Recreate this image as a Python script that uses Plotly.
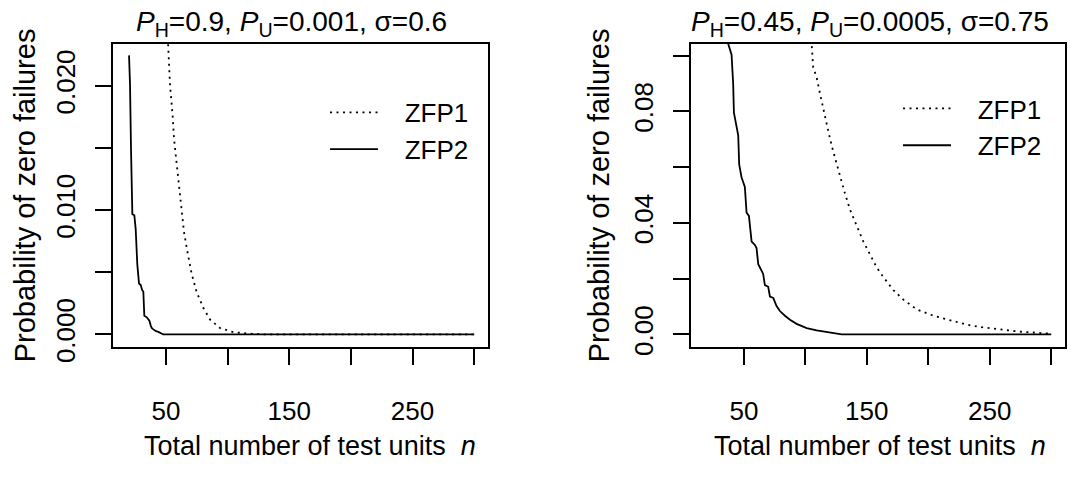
import plotly.graph_objects as go

# ---------------- data ----------------
# Left panel: P_H=0.9, P_U=0.001, sigma=0.6
n_zfp1_left = [50, 51.9, 53.2, 55.4, 56.5, 58.7, 60.8, 62.7, 64.6, 67.3, 70.8, 74.9,
               80.2, 85.7, 93.8, 104.5, 115.4, 120.8, 130, 300]
p_zfp1_left = [0.0270, 0.02315, 0.02016, 0.01757, 0.01576, 0.01369, 0.01187, 0.0098,
               0.00824, 0.00669, 0.00488, 0.00340, 0.00215, 0.00120, 0.00052, 0.00018,
               0.00008, 0.00005, 0.00001, 0.0]
n_zfp2_left = [20.0, 20.8, 21.6, 22.7, 24.3, 25.4, 26.7, 28.1, 29.5, 30.6, 31.6, 32.4,
               34.4, 36.5, 37.6, 38.4, 39.7, 41.9, 43.8, 46.5, 47.8, 300]
p_zfp2_left = [0.02245, 0.02016, 0.01498, 0.00967, 0.00959, 0.0085, 0.00565, 0.0041,
               0.00397, 0.00358, 0.00345, 0.0015, 0.00138, 0.00111, 0.00072, 0.00052,
               0.00041, 0.00026, 0.00021, 0.00008, 0.0, 0.0]

# Right panel: P_H=0.45, P_U=0.0005, sigma=0.75
n_zfp1_right = [104, 105.1, 106.4, 109.2, 111.9, 114.6, 117.3, 120.0, 122.7, 125.5, 128.2,
                132.2, 136.3, 141.8, 147.2, 152.6, 158.1, 163.4, 171.6, 179.7, 190.6,
                204.2, 217.8, 231.4, 244.9, 258.5, 272.1, 285.6, 299.2]
p_zfp1_right = [0.108, 0.1043, 0.0957, 0.0922, 0.0864, 0.0807, 0.0749, 0.0703, 0.0656,
                0.0610, 0.0564, 0.0506, 0.0448, 0.0391, 0.0333, 0.0287, 0.0240, 0.0206,
                0.0159, 0.0125, 0.0090, 0.0067, 0.0050, 0.0035, 0.0025, 0.0017, 0.0011,
                0.0007, 0.0003]
n_zfp2_right = [36, 37.2, 40.0, 41.3, 41.9, 43.5, 45.4, 46.2, 48.1, 50.8, 52.2, 54.1,
                56.3, 59.0, 60.3, 61.7, 65.7, 67.1, 69.8, 71.2, 73.9, 76.6, 79.3, 83.4,
                87.5, 92.9, 101.1, 109.2, 117.3, 128.2, 129.6, 300]
p_zfp2_right = [0.110, 0.1043, 0.1003, 0.0899, 0.0795, 0.0755, 0.0714, 0.0610, 0.0564,
                0.0529, 0.0437, 0.0425, 0.0333, 0.0321, 0.0310, 0.0252, 0.0217, 0.0177,
                0.0171, 0.0136, 0.0131, 0.0102, 0.0084, 0.0067, 0.0053, 0.0038, 0.0023,
                0.0015, 0.0009, 0.0003, 0.0, 0.0]

# labelled ticks (unlabelled ticks every x_tick_step / y_tick_step)
x_tickvals = [50, 150, 250]
x_ticktext = ["50", "150", "250"]
x_tick_step = 50
y_tickvals_left = [0.000, 0.010, 0.020]
y_ticktext_left = ["0.000", "0.010", "0.020"]
y_tick_step_left = 0.005
y_tickvals_right = [0.00, 0.04, 0.08]
y_ticktext_right = ["0.00", "0.04", "0.08"]
y_tick_step_right = 0.02

series_names = ["ZFP1", "ZFP2"]
titles = ["<i>P</i><sub>H</sub>=0.9, <i>P</i><sub>U</sub>=0.001, σ=0.6",
          "<i>P</i><sub>H</sub>=0.45, <i>P</i><sub>U</sub>=0.0005, σ=0.75"]
xlab = "Total number of test units  <i>n</i>"
ylab = "Probability of zero failures"

# ---------------- figure ----------------
W, H = 1071, 480
FONT = "Liberation Sans, Arial, Helvetica, sans-serif"
LW = 1.8
DOT = "2px,4.5px"
GAP = "\u00a0\u00a0\u00a0"   # extra gap between legend sample line and label

fig = go.Figure()
fig.add_trace(go.Scatter(x=n_zfp1_left, y=p_zfp1_left, mode="lines", name=GAP + series_names[0],
                         line=dict(color="black", width=LW, dash=DOT),
                         xaxis="x", yaxis="y", legend="legend"))
fig.add_trace(go.Scatter(x=n_zfp2_left, y=p_zfp2_left, mode="lines", name=GAP + series_names[1],
                         line=dict(color="black", width=LW),
                         xaxis="x", yaxis="y", legend="legend"))
fig.add_trace(go.Scatter(x=n_zfp1_right, y=p_zfp1_right, mode="lines", name=GAP + series_names[0],
                         line=dict(color="black", width=LW, dash=DOT),
                         xaxis="x2", yaxis="y2", legend="legend2"))
fig.add_trace(go.Scatter(x=n_zfp2_right, y=p_zfp2_right, mode="lines", name=GAP + series_names[1],
                         line=dict(color="black", width=LW),
                         xaxis="x2", yaxis="y2", legend="legend2"))

def px_x(p):
    return p / W

def px_y(p):
    return 1 - p / H

TICKLEN, TICKW = 16, 1.6
def minor(step):
    return dict(tick0=0, dtick=step, ticks="outside", ticklen=TICKLEN,
                tickwidth=TICKW, tickcolor="black", showgrid=False)

ydom = [px_y(359), px_y(45)]
common_x = dict(range=[7.0, 311.2], tickvals=x_tickvals, ticktext=x_ticktext,
                minor=minor(x_tick_step),
                ticks="outside", ticklen=TICKLEN, tickwidth=TICKW, tickcolor="black",
                showline=True, mirror=True, linecolor="black", linewidth=1.6,
                showgrid=False, zeroline=False, ticklabelstandoff=24,
                tickfont=dict(size=26, color="black", family=FONT))
common_y = dict(ticks="outside", ticklen=TICKLEN, tickwidth=TICKW, tickcolor="black",
                showline=True, mirror=True, linecolor="black", linewidth=1.6,
                showgrid=False, zeroline=False, tickangle=-90, ticklabelstandoff=10,
                tickfont=dict(size=26, color="black", family=FONT))

leg_common = dict(bgcolor="rgba(0,0,0,0)", borderwidth=0, itemwidth=48,
                  font=dict(size=26, color="black", family=FONT),
                  xanchor="left", yanchor="top", tracegroupgap=0)

annotations = [
    dict(text=titles[0], x=px_x(291), y=px_y(24), xref="paper", yref="paper",
         showarrow=False, xanchor="center", yanchor="middle",
         font=dict(size=28, family=FONT, color="black")),
    dict(text=titles[1], x=px_x(870), y=px_y(24), xref="paper", yref="paper",
         showarrow=False, xanchor="center", yanchor="middle",
         font=dict(size=28, family=FONT, color="black")),
    dict(text=xlab, x=px_x(310), y=px_y(461), xref="paper", yref="paper",
         showarrow=False, xanchor="center", yanchor="middle",
         font=dict(size=27, family=FONT, color="black")),
    dict(text=xlab, x=px_x(880), y=px_y(461), xref="paper", yref="paper",
         showarrow=False, xanchor="center", yanchor="middle",
         font=dict(size=27, family=FONT, color="black")),
    dict(text=ylab, x=px_x(25), y=px_y(202), xref="paper", yref="paper",
         showarrow=False, xanchor="center", yanchor="middle", textangle=-90,
         font=dict(size=29, family=FONT, color="black")),
    dict(text=ylab, x=px_x(599), y=px_y(202), xref="paper", yref="paper",
         showarrow=False, xanchor="center", yanchor="middle", textangle=-90,
         font=dict(size=29, family=FONT, color="black")),
]

fig.update_layout(
    width=W, height=H, autosize=False, margin=dict(l=0, r=0, t=0, b=0),
    paper_bgcolor="white", plot_bgcolor="white",
    font=dict(family=FONT, color="black", size=26),
    xaxis=dict(domain=[px_x(113), px_x(488)], anchor="y", **common_x),
    yaxis=dict(domain=ydom, anchor="x", range=[-0.001011, 0.023406],
               tickvals=y_tickvals_left, ticktext=y_ticktext_left,
               minor=minor(y_tick_step_left), **common_y),
    xaxis2=dict(domain=[px_x(691), px_x(1065)], anchor="y2", **common_x),
    yaxis2=dict(domain=ydom, anchor="x2", range=[-0.004506, 0.10433],
                tickvals=y_tickvals_right, ticktext=y_ticktext_right,
                minor=minor(y_tick_step_right), **common_y),
    legend=dict(x=px_x(325), y=px_y(92), **leg_common),
    legend2=dict(x=px_x(898), y=px_y(88), **leg_common),
    annotations=annotations,
    showlegend=True,
)

fig.write_html("out.html", config={"responsive": False},
               default_width="1071px", default_height="480px",
               post_script="document.body.style.margin='0px';"
                           "document.body.style.overflow='hidden';")
